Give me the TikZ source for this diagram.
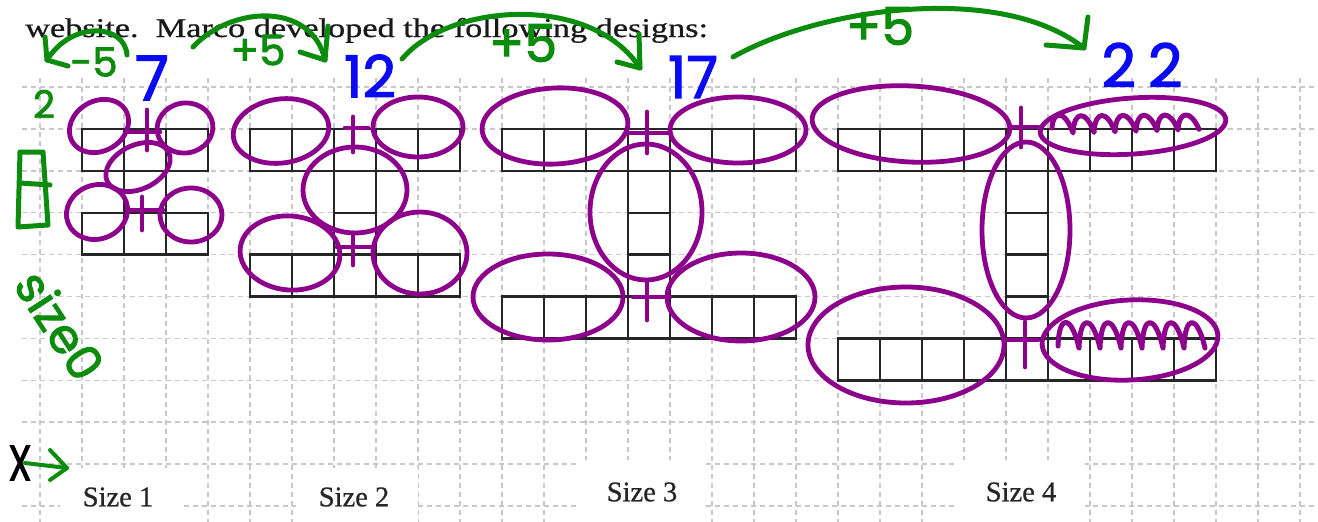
\documentclass[tikz,border=0pt]{standalone}
\usepackage{fontspec}
\setmainfont{Liberation Serif}[FakeBold=0.7]
\newfontfamily\hand[FakeBold=2]{Poppins}
\definecolor{penGreen}{RGB}{12,140,12}
\definecolor{penBlue}{RGB}{10,10,245}
\definecolor{penPurple}{RGB}{140,0,140}
\definecolor{gridGray}{RGB}{200,200,200}
% one square tile of a design, by column and row of the grid
\newcommand\tilecell[2]{\draw[tileline] ({40+42*#1},{87+41.9*#2}) rectangle ++(42,41.9);}
% a hand-drawn loop: centre x, centre y, radii, tilt
\newcommand\purplering[5]{\draw[loopink, rotate around={#5:(#1,#2)}] (#1,#2) ellipse [x radius=#3pt, y radius=#4pt];}
\begin{document}
\begin{tikzpicture}[x=1pt,y=-1pt,
  gridline/.style={gridGray, line width=1.5pt, dash pattern=on 5pt off 4pt},
  tileline/.style={black!85, line width=2.4pt},
  loopink/.style={penPurple, line width=4.8pt, line cap=round, line join=round},
  pen/.style={penGreen, line width=5pt, line cap=round, line join=round},
  greenhand/.style={penGreen, inner sep=0pt, font=\hand},
  bluehand/.style={penBlue, inner sep=0pt, font=\hand},
  sizelabel/.style={inner sep=0pt, font=\fontsize{28.5}{30}\selectfont, text=black!85}]
\useasboundingbox (0,0) rectangle (1318,522);
\fill[white] (0,0) rectangle (1318,522);

% dotted grid paper
\foreach \j in {0,...,10} \draw[gridline] (22,{87+41.9*\j}) -- (1318,{87+41.9*\j});
\foreach \i in {0,...,30} \draw[gridline] ({40+42*\i},78) -- ({40+42*\i},522);

% white boxes behind the size captions
\fill[white] (60,468) rectangle (183,522);
\fill[white] (296,468) rectangle (418,522);
\fill[white] (580,460) rectangle (705,522);
\fill[white] (958,460) rectangle (1085,522);

% size 1
\foreach \i in {1,2,3} {\tilecell{\i}{1}\tilecell{\i}{3}}
\tilecell{2}{2}
% size 2
\foreach \i in {5,...,9} {\tilecell{\i}{1}\tilecell{\i}{4}}
\foreach \j in {2,3} {\tilecell{7}{\j}}
% size 3
\foreach \i in {11,...,17} {\tilecell{\i}{1}\tilecell{\i}{5}}
\foreach \j in {2,3,4} {\tilecell{14}{\j}}
% size 4
\foreach \i in {19,...,27} {\tilecell{\i}{1}\tilecell{\i}{6}}
\foreach \j in {2,...,5} {\tilecell{23}{\j}}

% printed text
\node[anchor=base west, inner sep=0pt, font=\fontsize{27}{29}\selectfont, text=black!90, xscale=1.27] (title) at (25,37) {website.~~Marco developed the following designs:};
\node[sizelabel] (size1) at (118,497) {Size 1};
\node[sizelabel] (size2) at (354,497) {Size 2};
\node[sizelabel] (size3) at (642,492) {Size 3};
\node[sizelabel] (size4) at (1021,492) {Size 4};

% purple grouping loops, size 1
\purplering{99}{126}{31}{25}{30}
\purplering{185}{128}{28}{25}{10}
\purplering{138}{167}{34}{22}{25}
\purplering{97}{212}{31}{27}{20}
\purplering{191}{215}{31}{27}{0}
\draw[loopink] (147,110) -- (147,150) (128,132) -- (160,132);
\draw[loopink] (142,197) -- (142,230) (127,210) -- (163,210);
% size 2
\purplering{281}{131}{48}{32}{8}
\purplering{418}{127}{45}{30}{0}
\purplering{355}{190}{52}{43}{0}
\purplering{290}{253}{50}{37}{-5}
\purplering{420}{253}{47}{41}{0}
\draw[loopink] (353,117) -- (353,152) (345,128) -- (368,128);
\draw[loopink] (353,233) -- (353,265) (337,247) -- (372,247);
% size 3
\purplering{555}{126}{73}{38}{3}
\purplering{738}{130}{68}{33}{0}
\purplering{646}{212}{56}{68}{0}
\purplering{548}{297}{75}{43}{0}
\purplering{741}{297}{74}{44}{0}
\draw[loopink] (647,112) -- (647,153) (628,133) -- (670,133);
\draw[loopink] (647,282) -- (647,320) (633,297) -- (670,297);
% size 4
\purplering{911}{124}{99}{38}{-3}
\purplering{1133}{126}{93}{28}{4}
\purplering{1026}{230}{44}{88}{0}
\purplering{906}{345}{98}{58}{0}
\purplering{1130}{340}{88}{40}{3}
\draw[loopink] (1021,108) -- (1021,147) (1010,127) -- (1038,127);
\draw[loopink] (1025,322) -- (1025,367) (1006,340) -- (1038,340);
% scribbles crossing out the end pieces
\draw[loopink, line width=5pt] (1052,128) \foreach \k in {0,...,6} { .. controls ({1052+21*\k+1},110) and ({1052+21*\k+13},110) .. ({1052+21*\k+21},{133-0.6*\k}) };
\draw[loopink, line width=5pt] (1058,346) \foreach \k in {0,...,6} { .. controls ({1058+21*\k+1},314) and ({1058+21*\k+13},314) .. ({1058+21*\k+21},348) };

% green step arrows
\coordinate (m1s) at (127,55);  \coordinate (m1e) at (47,60);
\draw[pen] (m1s) .. controls (125,24) and (72,20) .. (m1e);
\draw[pen] (45,37) -- (m1e) -- (68,66);
\coordinate (p1s) at (193,47);  \coordinate (p1e) at (325,60);
\draw[pen] (p1s) .. controls (232,5) and (312,2) .. (p1e);
\draw[pen] (300,52) -- (p1e) -- (328,26);
\coordinate (p2s) at (402,59);  \coordinate (p2e) at (640,68);
\draw[pen] (p2s) .. controls (450,2) and (592,-6) .. (p2e);
\draw[pen] (617,62) -- (p2e) -- (639,34);
\coordinate (p3s) at (733,57);  \coordinate (p3e) at (1084,48);
\draw[pen] (p3s) .. controls (820,8) and (1000,-18) .. (p3e);
\draw[pen] (1046,45) -- (p3e) -- (1088,17);

% green notes
\node[greenhand, font=\hand\fontsize{40}{40}\selectfont] (minus5) at (94,62) {-5};
\node[greenhand, font=\hand\fontsize{42}{42}\selectfont] (plus5a) at (258,50) {+5};
\node[greenhand, font=\hand\fontsize{52}{52}\selectfont] (plus5b) at (523,43) {+5};
\node[greenhand, font=\hand\fontsize{52}{52}\selectfont] (plus5c) at (880,26) {+5};
\node[greenhand, font=\hand\fontsize{38}{38}\selectfont] (two) at (44,104) {2};
\node[greenhand, font=\hand\fontsize{48}{48}\selectfont, rotate=-57] (sizezero) at (60,325) {size0};
\draw[pen] (20,152) -- (18,227) -- (48,225) -- (43,152) -- cycle;
\draw[pen] (20,183) -- (50,185);

% blue totals
\node[bluehand, font=\hand\fontsize{62}{62}\selectfont] (seven) at (152,78) {7};
\node[bluehand, font=\hand\fontsize{58}{58}\selectfont] (twelve) at (370,76) {12};
\node[bluehand, font=\hand\fontsize{58}{58}\selectfont] (seventeen) at (693,77) {17};
\node[bluehand, font=\hand\fontsize{60}{60}\selectfont] (twentytwo) at (1142,65) {2\kern12pt2};

% x axis mark
\node[inner sep=0pt, font=\hand\fontsize{50}{50}\selectfont, xscale=0.75] (xmark) at (20,463) {X};
\coordinate (xa) at (25,463); \coordinate (xb) at (67,468);
\draw[pen, line width=4pt] (xa) -- (xb);
\draw[pen, line width=4pt] (50,450) -- (xb) -- (50,480);
\end{tikzpicture}
\end{document}
